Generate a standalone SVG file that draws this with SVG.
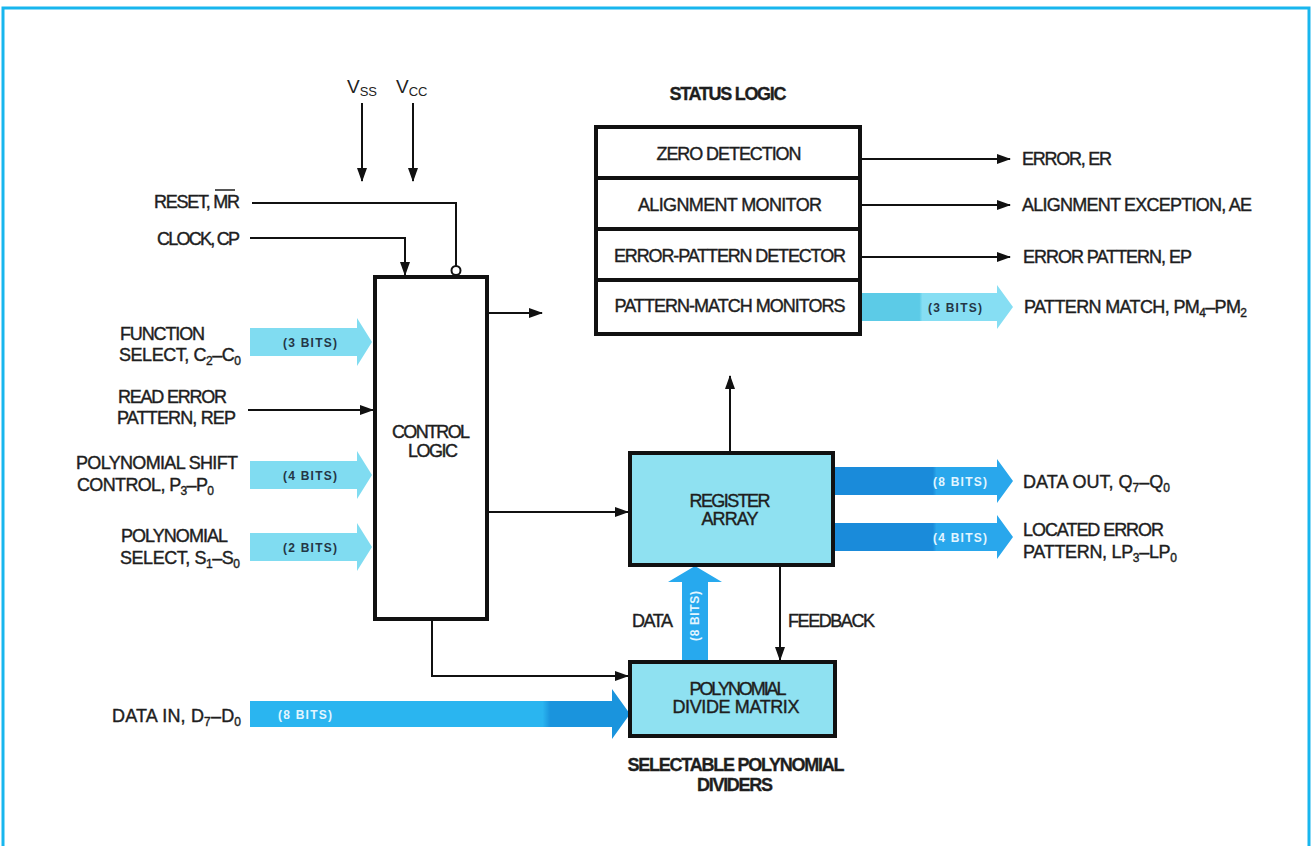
<svg xmlns="http://www.w3.org/2000/svg" width="1313" height="846" viewBox="0 0 1313 846">
<style>
.t{font-family:"Liberation Sans",Arial,sans-serif;font-size:18px;fill:#1e1e1e;stroke:#1e1e1e;stroke-width:0.4}
.c{text-anchor:middle}
.e{text-anchor:end}
.b{font-weight:bold;stroke-width:0.3}
.s{font-size:12px}
.bits{font-family:"Liberation Sans",Arial,sans-serif;font-size:12px;font-weight:bold;text-anchor:middle}
.dk{fill:#243646}
.wt{fill:#e2f5ff}
.box{fill:#fff;stroke:#111;stroke-width:4}
.cbox{fill:#8fe1f1;stroke:#111;stroke-width:4}
.ln{fill:none;stroke:#111;stroke-width:2}
.v{font-family:"Liberation Sans",Arial,sans-serif;font-size:19px;fill:#222}
</style>
<defs>
<marker id="ah" markerUnits="userSpaceOnUse" markerWidth="14" markerHeight="10" refX="13" refY="5" orient="auto"><path d="M0,0 L14,5 L0,10 Z" fill="#111"/></marker>
<linearGradient id="gCyan" x1="862" x2="1013" y1="0" y2="0" gradientUnits="userSpaceOnUse"><stop offset="0" stop-color="#5ccbe7"/><stop offset="0.38" stop-color="#5ccbe7"/><stop offset="0.4" stop-color="#86def3"/><stop offset="1" stop-color="#86def3"/></linearGradient>
<linearGradient id="gBlue" x1="835" x2="1013" y1="0" y2="0" gradientUnits="userSpaceOnUse"><stop offset="0" stop-color="#1a8bda"/><stop offset="0.55" stop-color="#1a8bda"/><stop offset="0.57" stop-color="#29a7ec"/><stop offset="1" stop-color="#29a7ec"/></linearGradient>
<linearGradient id="gIn" x1="250" x2="630" y1="0" y2="0" gradientUnits="userSpaceOnUse"><stop offset="0" stop-color="#2ab5f0"/><stop offset="0.77" stop-color="#2ab5f0"/><stop offset="0.79" stop-color="#1a94dd"/><stop offset="1" stop-color="#1a94dd"/></linearGradient>
</defs>

<g id="frame">
<path d="M3,846 L3,8 L1309,8 L1309,846" fill="none" stroke="#18b6ee" stroke-width="3"/>
</g>

<g id="connectors">
<line class="ln" x1="362" y1="103" x2="362" y2="181" marker-end="url(#ah)"/>
<line class="ln" x1="413" y1="103" x2="413" y2="181" marker-end="url(#ah)"/>
<polyline class="ln" points="252,203 456,203 456,266"/>
<circle cx="456" cy="270.5" r="4.5" fill="#fff" stroke="#111" stroke-width="2"/>
<polyline class="ln" points="250,238 405,238 405,275" marker-end="url(#ah)"/>
<line class="ln" x1="248" y1="410" x2="373" y2="410" marker-end="url(#ah)"/>
<line class="ln" x1="487" y1="313" x2="542" y2="313" marker-end="url(#ah)"/>
<line class="ln" x1="487" y1="512" x2="628" y2="512" marker-end="url(#ah)"/>
<polyline class="ln" points="432,619 432,676 628,676" marker-end="url(#ah)"/>
<line class="ln" x1="730" y1="451" x2="730" y2="376" marker-end="url(#ah)"/>
<line class="ln" x1="780" y1="565" x2="780" y2="660" marker-end="url(#ah)"/>
<line class="ln" x1="862" y1="159" x2="1010" y2="159" marker-end="url(#ah)"/>
<line class="ln" x1="862" y1="205" x2="1010" y2="205" marker-end="url(#ah)"/>
<line class="ln" x1="862" y1="257" x2="1010" y2="257" marker-end="url(#ah)"/>
<polygon points="250,328 357,328 357,318 372,342 357,366 357,356 250,356" fill="#80dcf1"/>
<polygon points="250,461 357,461 357,451 372,475 357,499 357,489 250,489" fill="#80dcf1"/>
<polygon points="250,533 357,533 357,523 372,547 357,571 357,561 250,561" fill="#80dcf1"/>
<polygon points="862,293 997,293 997,285 1013,307 997,329 997,321 862,321" fill="url(#gCyan)"/>
<polygon points="835,467 997,467 997,459 1013,481 997,503 997,495 835,495" fill="url(#gBlue)"/>
<polygon points="835,523 997,523 997,515 1013,537 997,559 997,551 835,551" fill="url(#gBlue)"/>
<polygon points="250,701 612,701 612,689 630,714 612,739 612,727 250,727" fill="url(#gIn)"/>
<polygon points="682,661 682,582 668,582 695,566 722,582 708,582 708,661" fill="#27a9ee"/>
<text class="bits dk" x="310" y="347" textLength="54">(3 BITS)</text>
<text class="bits dk" x="310" y="480" textLength="54">(4 BITS)</text>
<text class="bits dk" x="310" y="552" textLength="54">(2 BITS)</text>
<text class="bits dk" x="955" y="312" textLength="54">(3 BITS)</text>
<text class="bits wt" x="960" y="486" textLength="54">(8 BITS)</text>
<text class="bits wt" x="960" y="542" textLength="54">(4 BITS)</text>
<text class="bits wt" x="305" y="719" textLength="54">(8 BITS)</text>
<text class="bits wt" transform="translate(699,616) rotate(-90)" x="0" y="0" textLength="50">(8 BITS)</text>
</g>

<g id="power-labels">
<text class="v" x="347" y="93">V<tspan font-size="13" dy="3">SS</tspan></text>
<text class="v" x="396" y="93">V<tspan font-size="13" dy="3">CC</tspan></text>
</g>

<g id="input-labels">
<text class="t e" x="240" y="208" textLength="86">RESET, MR</text>
<line x1="215" y1="190" x2="235" y2="190" stroke="#1e1e1e" stroke-width="1.5"/>
<text class="t e" x="240" y="245" textLength="83">CLOCK, CP</text>
<text class="t" x="120" y="340" textLength="85">FUNCTION</text>
<text class="t" x="119" y="361" textLength="122">SELECT, C<tspan class="s" dy="4">2</tspan><tspan dy="-4">–C</tspan><tspan class="s" dy="4">0</tspan></text>
<text class="t" x="118" y="403" textLength="109">READ ERROR</text>
<text class="t" x="117" y="424" textLength="119">PATTERN, REP</text>
<text class="t" x="76" y="469" textLength="162">POLYNOMIAL SHIFT</text>
<text class="t" x="77" y="491" textLength="137">CONTROL, P<tspan class="s" dy="4">3</tspan><tspan dy="-4">–P</tspan><tspan class="s" dy="4">0</tspan></text>
<text class="t" x="121" y="542" textLength="107">POLYNOMIAL</text>
<text class="t" x="120" y="564" textLength="120">SELECT, S<tspan class="s" dy="4">1</tspan><tspan dy="-4">–S</tspan><tspan class="s" dy="4">0</tspan></text>
<text class="t" x="112" y="722" textLength="129">DATA IN, D<tspan class="s" dy="4">7</tspan><tspan dy="-4">–D</tspan><tspan class="s" dy="4">0</tspan></text>
</g>

<g id="control-logic">
<rect class="box" x="375" y="277" width="112" height="342"/>
<text class="t c" x="431" y="438" textLength="78">CONTROL</text>
<text class="t c" x="433" y="457" textLength="50">LOGIC</text>
</g>

<g id="status-logic">
<text class="t c b" x="728" y="100" textLength="117">STATUS LOGIC</text>
<rect class="box" x="596" y="127" width="264" height="207"/>
<line x1="596" y1="178" x2="860" y2="178" stroke="#111" stroke-width="4"/>
<line x1="596" y1="229" x2="860" y2="229" stroke="#111" stroke-width="4"/>
<line x1="596" y1="280" x2="860" y2="280" stroke="#111" stroke-width="4"/>
<text class="t c" x="729" y="160" textLength="145">ZERO DETECTION</text>
<text class="t c" x="730" y="211" textLength="184">ALIGNMENT MONITOR</text>
<text class="t c" x="730" y="262" textLength="232">ERROR-PATTERN DETECTOR</text>
<text class="t c" x="730" y="312" textLength="231">PATTERN-MATCH MONITORS</text>
</g>

<g id="output-labels">
<text class="t" x="1022" y="165" textLength="90">ERROR, ER</text>
<text class="t" x="1022" y="211" textLength="230">ALIGNMENT EXCEPTION, AE</text>
<text class="t" x="1023" y="263" textLength="169">ERROR PATTERN, EP</text>
<text class="t" x="1024" y="313" textLength="223">PATTERN MATCH, PM<tspan class="s" dy="4">4</tspan><tspan dy="-4">–PM</tspan><tspan class="s" dy="4">2</tspan></text>
<text class="t" x="1023" y="488" textLength="147">DATA OUT, Q<tspan class="s" dy="4">7</tspan><tspan dy="-4">–Q</tspan><tspan class="s" dy="4">0</tspan></text>
<text class="t" x="1023" y="536" textLength="141">LOCATED ERROR</text>
<text class="t" x="1023" y="558" textLength="154">PATTERN, LP<tspan class="s" dy="4">3</tspan><tspan dy="-4">–LP</tspan><tspan class="s" dy="4">0</tspan></text>
</g>

<g id="register-array">
<rect class="cbox" x="630" y="453" width="203" height="112"/>
<text class="t c" x="730" y="507" textLength="81">REGISTER</text>
<text class="t c" x="730" y="525" textLength="57">ARRAY</text>
</g>

<g id="bus-labels">
<text class="t" x="632" y="627" textLength="41">DATA</text>
<text class="t" x="788" y="627" textLength="87">FEEDBACK</text>
</g>

<g id="polynomial-divide-matrix">
<rect class="cbox" x="630" y="662" width="205" height="74"/>
<text class="t c" x="738" y="695" textLength="97">POLYNOMIAL</text>
<text class="t c" x="736" y="713" textLength="127">DIVIDE MATRIX</text>
<text class="t c b" x="736" y="771" textLength="217">SELECTABLE POLYNOMIAL</text>
<text class="t c b" x="735" y="791" textLength="76">DIVIDERS</text>
</g>
</svg>
